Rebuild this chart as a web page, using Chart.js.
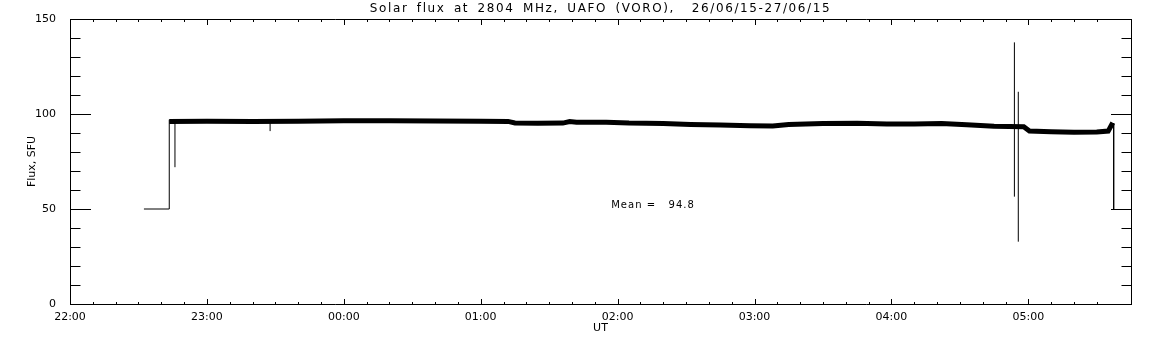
<!DOCTYPE html>
<html>
<head>
<meta charset="utf-8">
<title>Solar flux at 2804 MHz</title>
<script src="https://cdn.jsdelivr.net/npm/chart.js@4/dist/chart.umd.min.js"></script>
<style>
  html, body { margin: 0; padding: 0; background: #fff; }
  canvas { display: block; }
</style>
</head>
<body>
<canvas id="fluxChart" width="1152" height="345"></canvas>
<script>
// time axis is minutes after 22:00 UT
var xTickLabels = ["22:00", "23:00", "00:00", "01:00", "02:00", "03:00", "04:00", "05:00"];
var titleText = "Solar flux at 2804 MHz, UAFO (VORO),  26/06/15-27/06/15";
var meanValue = 94.8;

// main flux trace
var bandTimes = [43.5, 60, 80, 100, 120, 140, 160, 180, 192, 195, 205, 216, 219, 222, 235, 245, 260, 272, 285, 298, 308, 315, 330, 345, 358, 370, 382, 393, 405, 418, 420.5, 430, 440, 450, 455, 457];
var bandFlux = [96.0, 96.2, 96.0, 96.2, 96.4, 96.4, 96.3, 96.2, 96.1, 95.3, 95.1, 95.2, 96.0, 95.7, 95.6, 95.2, 95.0, 94.5, 94.2, 93.8, 93.7, 94.5, 95.0, 95.1, 94.7, 94.8, 95.0, 94.4, 93.6, 93.3, 91.0, 90.7, 90.4, 90.5, 91.0, 95.4];

// calibration level before and after the record
var stepTimes = [32.4, 43.5, 43.5, null, 457.4, 457.4];
var stepFlux = [50, 50, 97, null, 95.2, 50];

// spikes
var spikeTimes = [46.0, 87.7, 413.9, 415.6];
var spikeLow = [72, 91, 56.5, 32.8];
var spikeHigh = [96, 96, 137.7, 111.7];

function pairs(xs, ys) {
    var out = [];
    for (var i = 0; i < xs.length; i++) {
        out.push({ x: xs[i], y: ys[i] });
    }
    return out;
}

var spikeData = [];
for (var i = 0; i < spikeTimes.length; i++) {
    spikeData.push({ x: spikeTimes[i], y: spikeLow[i] });
    spikeData.push({ x: spikeTimes[i], y: spikeHigh[i] });
    spikeData.push({ x: spikeTimes[i], y: null });
}

var stepData = [];
for (var j = 0; j < stepTimes.length; j++) {
    stepData.push({ x: stepTimes[j] === null ? stepTimes[j - 1] : stepTimes[j], y: stepFlux[j] });
}

var axisFont = { family: "DejaVu Sans", size: 11 };

// IDL style box with inward ticks, plus the mean label
var idlBox = {
    id: "idlBox",
    beforeDraw: function (chart) {
        chart.ctx.letterSpacing = "1.6px";
        chart.ctx.wordSpacing = "3px";
    },
    beforeDatasetsDraw: function (chart) {
        chart.ctx.letterSpacing = "0px";
        chart.ctx.wordSpacing = "0px";
    },
    afterDraw: function (chart) {
        var ctx = chart.ctx;
        var a = chart.chartArea;
        var xs = chart.scales.x;
        var ys = chart.scales.y;
        ctx.save();
        ctx.strokeStyle = "#000";
        ctx.lineWidth = 1;
        ctx.beginPath();
        ctx.rect(a.left + 0.5, a.top + 0.5, a.right - a.left, a.bottom - a.top);
        ys.ticks.forEach(function (t) {
            var py = Math.round(ys.getPixelForValue(t.value)) + 0.5;
            var len = t.value % 50 === 0 ? 21 : 10.5;
            ctx.moveTo(a.left, py);
            ctx.lineTo(a.left + len, py);
            ctx.moveTo(a.right + 1, py);
            ctx.lineTo(a.right + 1 - len, py);
        });
        xs.ticks.forEach(function (t) {
            var px = Math.round(xs.getPixelForValue(t.value)) + 0.5;
            var len = t.value % 60 === 0 ? 6 : 3;
            ctx.moveTo(px, a.bottom + 1);
            ctx.lineTo(px, a.bottom + 1 - len);
            ctx.moveTo(px, a.top);
            ctx.lineTo(px, a.top + len);
        });
        ctx.stroke();

        ctx.fillStyle = "#000";
        ctx.font = "10px 'DejaVu Sans'";
        ctx.letterSpacing = "1px";
        ctx.textAlign = "left";
        ctx.textBaseline = "middle";
        ctx.fillText("Mean =   " + meanValue.toFixed(1), xs.getPixelForValue(237.2), ys.getPixelForValue(52.1));
        ctx.restore();
    }
};

new Chart("fluxChart", {
    type: "line",
    data: {
        datasets: [
            {
                data: pairs(bandTimes, bandFlux),
                borderColor: "#000",
                borderWidth: 5,
                pointRadius: 0,
                tension: 0
            },
            {
                data: stepData,
                borderColor: "#000",
                borderWidth: 1,
                pointRadius: 0,
                spanGaps: false
            },
            {
                data: spikeData,
                borderColor: "#000",
                borderWidth: 1,
                pointRadius: 0,
                spanGaps: false
            }
        ]
    },
    options: {
        responsive: false,
        animation: false,
        devicePixelRatio: 1,
        layout: { padding: { top: 0, right: 21, bottom: 0, left: 0 } },
        plugins: {
            legend: { display: false },
            tooltip: { enabled: false },
            title: {
                display: true,
                text: titleText,
                fullSize: false,
                color: "#000",
                font: { family: "DejaVu Sans", size: 12, weight: "normal" },
                padding: { top: 2, bottom: 2.6 }
            }
        },
        scales: {
            x: {
                type: "linear",
                min: 0,
                max: 465,
                grid: { display: false, z: 1 },
                border: { display: false },
                afterFit: function (scale) { scale.height = 41; },
                ticks: {
                    z: 1,
                    stepSize: 10,
                    autoSkip: false,
                    maxRotation: 0,
                    minRotation: 0,
                    padding: -1,
                    color: "#000",
                    font: axisFont,
                    callback: function (v) {
                        return v % 60 === 0 ? xTickLabels[v / 60] : "";
                    }
                },
                title: {
                    display: true,
                    text: "UT",
                    color: "#000",
                    font: axisFont,
                    padding: { top: 0, bottom: 10 }
                }
            },
            y: {
                min: 0,
                max: 150,
                grid: { display: false, z: 1 },
                border: { display: false },
                afterFit: function (scale) { scale.width = 70; },
                ticks: {
                    z: 1,
                    stepSize: 10,
                    autoSkip: false,
                    padding: 6,
                    color: "#000",
                    font: axisFont,
                    callback: function (v) {
                        return v % 50 === 0 ? String(v) : "";
                    }
                },
                title: {
                    display: true,
                    text: "Flux, SFU",
                    color: "#000",
                    font: axisFont,
                    padding: { top: 26, bottom: 0 }
                }
            }
        }
    },
    plugins: [idlBox]
});
</script>
</body>
</html>
